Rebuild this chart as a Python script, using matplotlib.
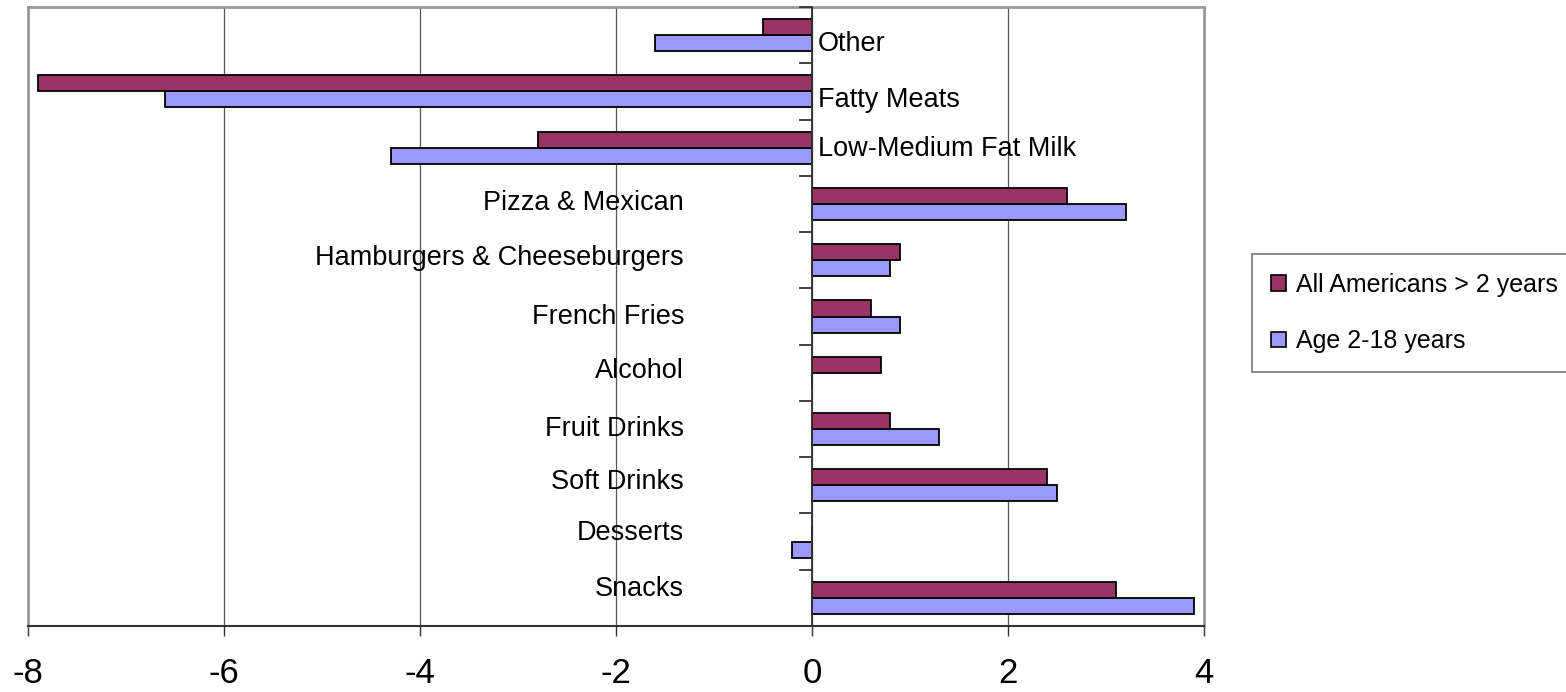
import matplotlib
matplotlib.use("Agg")
import matplotlib.pyplot as plt
from matplotlib.patches import Patch
import numpy as np

plt.rcParams['font.family'] = ['Liberation Sans', 'DejaVu Sans']

categories = ["Snacks", "Desserts", "Soft Drinks", "Fruit Drinks", "Alcohol",
              "French Fries", "Hamburgers & Cheeseburgers", "Pizza & Mexican",
              "Low-Medium Fat Milk", "Fatty Meats", "Other"]
all_americans = [3.1, 0.0, 2.4, 0.8, 0.7, 0.6, 0.9, 2.6, -2.8, -7.9, -0.5]
age_2_18 = [3.9, -0.2, 2.5, 1.3, 0.0, 0.9, 0.8, 3.2, -4.3, -6.6, -1.6]
series_names = ["All Americans > 2 years", "Age 2-18 years"]
x_ticks = [-8, -6, -4, -2, 0, 2, 4]

c_all = "#993366"
c_age = "#9999FF"

W, H = 1566, 692
fig = plt.figure(figsize=(W / 100, H / 100), dpi=100)
ax = fig.add_axes([28 / W, 1 - 626 / H, (1204 - 28) / W, (626 - 7) / H])

n = len(categories)
y = np.arange(n)
bh = 0.285
ax.barh(y - bh / 2, age_2_18, height=bh, color=c_age, edgecolor="black", linewidth=1.3, zorder=3)
ax.barh(y + bh / 2, all_americans, height=bh, color=c_all, edgecolor="black", linewidth=1.3, zorder=3)

ax.set_xlim(-8, 4)
ax.set_ylim(-0.5, n - 0.5)
ax.set_xticks(x_ticks)
ax.set_xticklabels([str(t) for t in x_ticks], fontsize=25)
ax.tick_params(axis="x", length=7.2, width=1, color="#333333", pad=15)
ax.set_yticks([])
ax.grid(axis="x", color="#555555", linewidth=0.9, zorder=0)

for side in ["top", "right", "left"]:
    ax.spines[side].set_color("#999999")
    ax.spines[side].set_linewidth(2)
ax.spines["bottom"].set_color("#333333")
ax.spines["bottom"].set_linewidth(1.5)

# category axis at x = 0 with outward ticks at category boundaries
ax.axvline(0, color="#333333", linewidth=1.3, zorder=4)
for b in np.arange(n + 1) - 0.5:
    ax.plot([-0.125, 0], [b, b], color="#333333", linewidth=1.3, zorder=4, clip_on=False)

# category labels
label_dy = [9, 9, 3, 0, 2, 0, 2, 1, -1, -9, -9]
for i, (cat, a, g) in enumerate(zip(categories, all_americans, age_2_18)):
    if max(a, g) <= 0 and (a + g) < -0.5:
        ax.annotate(cat, xy=(0, i), xytext=(6, label_dy[i]), textcoords="offset pixels",
                    ha="left", va="center", fontsize=19.5, zorder=5)
    else:
        ax.annotate(cat, xy=(0, i), xytext=(-128, label_dy[i]), textcoords="offset pixels",
                    ha="right", va="center", fontsize=19.5, zorder=5)

handles = [Patch(facecolor=c_all, edgecolor="black", linewidth=1.2),
           Patch(facecolor=c_age, edgecolor="black", linewidth=1.2)]
leg = fig.legend(handles, series_names, loc="upper left",
                 bbox_to_anchor=(1252 / W, 1 - 254 / H), fontsize=18,
                 frameon=True, fancybox=False, edgecolor="#555555",
                 handlelength=0.6, handleheight=0.6, handletextpad=0.4,
                 labelspacing=1.3, borderpad=0.75, borderaxespad=0)
leg.get_frame().set_linewidth(1.2)

fig.savefig("out.png", dpi=100)
